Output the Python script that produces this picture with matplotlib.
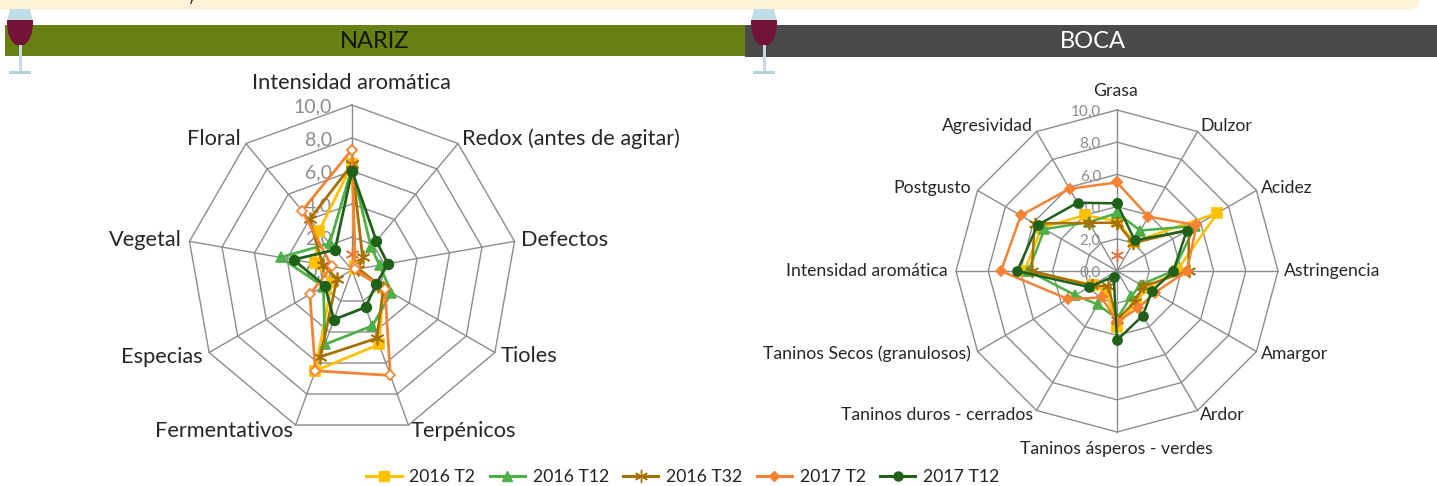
import numpy as np
import matplotlib
matplotlib.use('Agg')
import matplotlib.pyplot as plt
from matplotlib.lines import Line2D
from matplotlib.patches import Rectangle, Polygon, FancyBboxPatch

plt.rcParams['font.family'] = ['Lato', 'DejaVu Sans']

# Datos
series = ['2016 T2', '2016 T12', '2016 T32', '2017 T2', '2017 T12']
nariz_labels = ['Intensidad aromática', 'Redox (antes de agitar)', 'Defectos', 'Tioles',
                'Terpénicos', 'Fermentativos', 'Especias', 'Vegetal', 'Floral']
boca_labels = ['Grasa', 'Dulzor', 'Acidez', 'Astringencia', 'Amargor', 'Ardor',
               'Taninos ásperos - verdes', 'Taninos duros - cerrados',
               'Taninos Secos (granulosos)', 'Intensidad aromática', 'Postgusto', 'Agresividad']
escala = [0, 2, 4, 6, 8, 10]
escala_txt = ['0,0', '2,0', '4,0', '6,0', '8,0', '10,0']

nariz_2016_t2 = [6.4, 0.3, 0.2, 2.2, 4.8, 6.5, 1.4, 2.3, 3.1]
nariz_2016_t12 = [6.2, 1.8, 1.7, 2.75, 3.6, 4.8, 2.0, 4.4, 2.1]
nariz_2016_t32 = [6.4, 1.0, 0.4, 2.2, 4.4, 5.6, 1.05, 1.8, 4.0]
nariz_2017_t2 = [7.3, 0.3, 0.2, 2.3, 6.8, 6.5, 2.95, 1.25, 4.7]
nariz_2017_t12 = [6.0, 2.3, 2.2, 1.7, 2.4, 3.2, 1.9, 3.6, 1.6]

boca_2016_t2 = [3.1, 2.1, 7.2, 3.7, 2.15, 2.3, 3.45, 1.4, 1.7, 5.75, 5.4, 4.0]
boca_2016_t12 = [3.6, 2.9, 5.6, 3.5, 1.7, 1.8, 2.95, 2.4, 3.0, 5.5, 5.2, 3.5]
boca_2016_t32 = [3.0, 2.0, 5.15, 4.45, 1.9, 2.2, 3.05, 1.1, 1.8, 5.3, 5.9, 3.45]
boca_2017_t2 = [5.5, 3.9, 5.7, 4.35, 2.7, 2.65, 3.15, 1.9, 3.5, 7.2, 6.9, 5.9]
boca_2017_t12 = [4.2, 2.2, 5.0, 3.5, 2.5, 3.2, 4.3, 0.4, 2.0, 6.2, 5.7, 4.9]

punto_suelto = 1.0  # asterisco suelto sobre el primer eje

colores = ['#FFC000', '#4EAF46', '#A87000', '#F58232', '#1F6118']
marcadores = ['s', '^', (6, 2, 0), 'D', 'o']
ajuste_marca = [0, 0, 3, -1.5, 0]
GRIS = '#8C8C8C'
W, H = 1437, 486

fig = plt.figure(figsize=(W / 100, H / 100), dpi=100)

# capa de fondo en pixeles
bg = fig.add_axes([0, 0, 1, 1], zorder=0)
bg.set_xlim(0, W)
bg.set_ylim(H, 0)
bg.axis('off')


def radar(cx, cy, R, labels, datos, tam_marca, lw, hueco):
    ax = fig.add_axes([(cx - R) / W, 1 - (cy + R) / H, 2 * R / W, 2 * R / H],
                      projection='polar', zorder=2)
    ax.set_theta_zero_location('N')
    ax.set_theta_direction(-1)
    ax.set_ylim(0, 10)
    ax.axis('off')
    n = len(labels)
    ang = np.linspace(0, 2 * np.pi, n, endpoint=False)
    cierre = np.append(ang, ang[0])
    for r in escala[1:]:
        ax.plot(cierre, [r] * (n + 1), color=GRIS, lw=1.0, zorder=1, clip_on=False)
    for a in ang:
        ax.plot([a, a], [0, 10], color=GRIS, lw=1.0, zorder=1, clip_on=False)
    ax.plot([0], [punto_suelto], marker=(6, 2, 0), color='#E0703A', ms=tam_marca + 3, mew=1, zorder=3)
    for i, vals in enumerate(datos):
        mfc = colores[i]
        if hueco and i == 3:
            mfc = 'white'
        ax.plot(cierre, list(vals) + [vals[0]], color=colores[i], lw=lw, marker=marcadores[i],
                ms=tam_marca + ajuste_marca[i],
                mfc=mfc, mec=colores[i], mew=1.2, zorder=4 + i, clip_on=False)
    return ax


# cabecera
bg.add_patch(FancyBboxPatch((-20, -20), 1440, 30, boxstyle='round,pad=0,rounding_size=12',
                            fc='#FFF2D9', ec='none'))
bg.text(192, -3.5, 'y', fontsize=11, color='#222222', ha='center', va='center', clip_on=True)
bg.add_patch(Rectangle((5, 25), 740, 31, fc='#678011', ec='none'))
bg.add_patch(Rectangle((745, 25), 692, 32, fc='#4A4A48', ec='none'))
bg.text(375, 41, 'NARIZ', fontsize=17, color='#101500', ha='center', va='center')
bg.text(1093, 41, 'BOCA', fontsize=17, color='white', ha='center', va='center')


def copa(cx):
    over = fig.add_axes([0, 0, 1, 1], zorder=3)
    over.set_xlim(0, W)
    over.set_ylim(H, 0)
    over.axis('off')
    over.patch.set_alpha(0)
    over.add_patch(Polygon([(cx - 10, 9), (cx + 10, 9), (cx + 13, 22), (cx - 13, 22)], fc='#BFDCE8', ec='none'))
    yy = np.linspace(20, 46, 20)
    ancho = 13 * np.sqrt(np.clip(1 - ((yy - 20) / 26) ** 2.4, 0.01, 1))
    over.add_patch(Polygon(np.r_[np.c_[cx - ancho, yy], np.c_[cx + ancho[::-1], yy[::-1]]],
                           fc='#741338', ec='none'))
    over.add_patch(Rectangle((cx - 1.5, 45), 3, 27, fc='#C4DCE6', ec='none'))
    over.add_patch(Rectangle((cx - 11, 71), 22, 3, fc='#B5D3DF', ec='none'))


# radares
radar(352, 270, 165, nariz_labels,
      [nariz_2016_t2, nariz_2016_t12, nariz_2016_t32, nariz_2017_t2, nariz_2017_t12], 7, 2.0, True)
radar(1117, 271, 161, boca_labels,
      [boca_2016_t2, boca_2016_t12, boca_2016_t32, boca_2017_t2, boca_2017_t12], 6.5, 1.8, False)

copa(20)
copa(764)

# etiquetas de los ejes
pos_nariz = [(351, 83, 'center'), (462, 139, 'left'), (521, 240, 'left'), (501, 356, 'left'),
             (411, 431, 'left'), (293, 431, 'right'), (203, 357, 'right'), (182, 240, 'right'),
             (241, 139, 'right')]
pos_boca = [(1116, 91, 'center'), (1200, 126, 'left'), (1261, 188, 'left'), (1284, 271, 'left'),
            (1261, 354, 'left'), (1200, 415, 'left'), (1116, 449, 'center'), (1033, 415, 'right'),
            (971, 354, 'right'), (948, 271, 'right'), (971, 188, 'right'), (1033, 126, 'right')]
for txt, (x, y, ha) in zip(nariz_labels, pos_nariz):
    bg.text(x, y, txt, fontsize=15.7, color='#262626', ha=ha, va='center')
for txt, (x, y, ha) in zip(boca_labels, pos_boca):
    bg.text(x, y, txt, fontsize=12.7, color='#262626', ha=ha, va='center')

for r, t in zip(escala, escala_txt):
    bg.text(332, 272 - r * 16.5, t, fontsize=14, color=GRIS, ha='right', va='center', zorder=5)
    bg.text(1101, 273 - r * 16.1, t, fontsize=11, color=GRIS, ha='right', va='center', zorder=5)

# leyenda
handles = [Line2D([], [], color=colores[i], marker=marcadores[i], lw=2.2, ms=6.5 + ajuste_marca[i],
                  mew=1.0, label=series[i]) for i in range(5)]
fig.legend(handles=handles, ncol=5, loc='center', bbox_to_anchor=(683 / W, 1 - 477 / H), frameon=False,
           fontsize=12.7, handlelength=2.0, handletextpad=0.45, columnspacing=0.8, labelcolor='#222222',
           borderpad=0)

fig.savefig('out.png', dpi=100)
